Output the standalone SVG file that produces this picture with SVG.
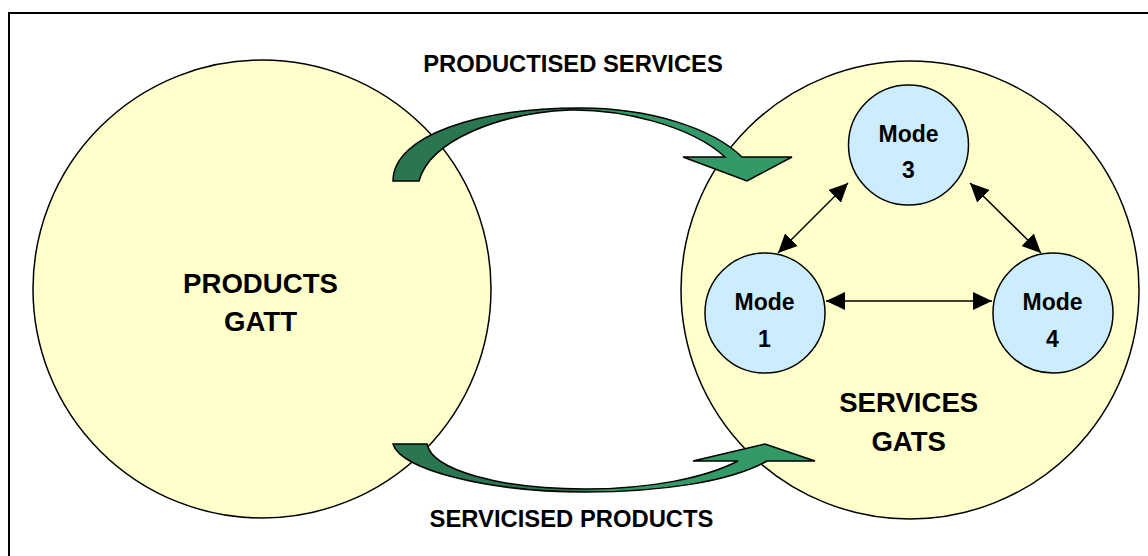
<svg xmlns="http://www.w3.org/2000/svg" width="1148" height="556" viewBox="0 0 1148 556">
  <style>
    .big { fill: #FFFFCC; stroke: #000; stroke-width: 1.5; }
    .mode { fill: #CCECFF; stroke: #000; stroke-width: 1.5; }
    .t { font-family: "Liberation Sans", Arial, sans-serif; font-weight: bold; fill: #000; text-anchor: middle; }
    .tbig { font-size: 27.6px; }
    .tmode { font-size: 23px; }
    .tlab { font-size: 23.8px; }
    .garrow { stroke: #000; stroke-width: 1.5; stroke-linejoin: miter; }
    .link { stroke: #000; stroke-width: 1.5; fill: none; marker-start: url(#ah); marker-end: url(#ah); }
  </style>
  <defs>
    <marker id="ah" markerUnits="userSpaceOnUse" markerWidth="20" markerHeight="18" refX="19" refY="9" orient="auto-start-reverse" viewBox="0 0 20 18">
      <path d="M0,0 L19,9 L0,18 Z" fill="#000"/>
    </marker>
    <linearGradient id="gTop" gradientUnits="userSpaceOnUse" x1="393" y1="0" x2="792" y2="0">
      <stop offset="0" stop-color="#2A7650"/>
      <stop offset="0.44" stop-color="#2A7650"/>
      <stop offset="0.50" stop-color="#339966"/>
      <stop offset="1" stop-color="#339966"/>
    </linearGradient>
    <linearGradient id="gBot" gradientUnits="userSpaceOnUse" x1="393" y1="0" x2="815" y2="0">
      <stop offset="0" stop-color="#2A7650"/>
      <stop offset="0.42" stop-color="#2A7650"/>
      <stop offset="0.50" stop-color="#339966"/>
      <stop offset="1" stop-color="#339966"/>
    </linearGradient>
  </defs>

  <rect width="1148" height="556" fill="#FFFFFF"/>
  <path d="M9,560 V13 H1152" fill="none" stroke="#000" stroke-width="2"/>

  <g id="products-gatt">
    <circle class="big" cx="262" cy="289" r="229"/>
    <text class="t tbig" x="260.5" y="293">PRODUCTS</text>
    <text class="t tbig" x="260.5" y="331">GATT</text>
  </g>

  <g id="services-gats">
    <circle class="big" cx="910" cy="290" r="229"/>
    <text class="t tbig" x="908.7" y="412.3">SERVICES</text>
    <text class="t tbig" x="908.7" y="450.7">GATS</text>
  </g>

  <g id="connectors">
    <g id="productised-services">
      <path class="garrow" fill="url(#gTop)" d="M393,181 C393,135 480,108 580,108 C650,108 712,128 742,157 L792,157 L747,181 L683,157 L725,157 C690,125 620,109 570,110 C500,113 430,140 419,181 Z"/>
      <text class="t tlab" x="573" y="72">PRODUCTISED SERVICES</text>
    </g>
    <g id="servicised-products">
      <path class="garrow" fill="url(#gBot)" d="M393,444 L427,444 C432,470 500,489 585,489 C650,489 705,478 738,461 L693,461 L765,444 L815,461 L767,461 C730,482 660,492 585,492 C490,492 400,470 393,444 Z"/>
      <text class="t tlab" x="571.5" y="527">SERVICISED PRODUCTS</text>
    </g>
    <line id="m1-m4" class="link" x1="826" y1="301" x2="992" y2="301"/>
    <line id="m3-m1" class="link" x1="848" y1="183" x2="778" y2="253"/>
    <line id="m3-m4" class="link" x1="970" y1="183" x2="1041" y2="253"/>
  </g>

  <g id="mode-3">
    <circle class="mode" cx="908.5" cy="145" r="60"/>
    <text class="t tmode" x="908.5" y="142">Mode</text>
    <text class="t tmode" x="908.5" y="178">3</text>
  </g>
  <g id="mode-1">
    <circle class="mode" cx="765" cy="313" r="60"/>
    <text class="t tmode" x="764.5" y="310">Mode</text>
    <text class="t tmode" x="764.5" y="347">1</text>
  </g>
  <g id="mode-4">
    <circle class="mode" cx="1053" cy="313" r="60"/>
    <text class="t tmode" x="1052.5" y="310">Mode</text>
    <text class="t tmode" x="1052.5" y="347">4</text>
  </g>
</svg>
